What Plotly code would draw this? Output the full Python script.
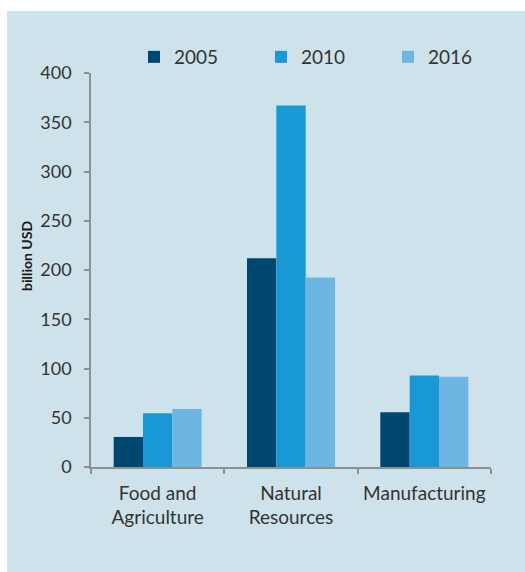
import plotly.graph_objects as go

categories = ["Food and<br>Agriculture", "Natural<br>Resources", "Manufacturing"]
years = ["2005", "2010", "2016"]
values_2005 = [30.5, 212, 55.5]
values_2010 = [54.5, 367, 93]
values_2016 = [59, 192.5, 91.5]
colors = ["#00476f", "#1898d4", "#6db6e2"]
y_ticks = [0, 50, 100, 150, 200, 250, 300, 350, 400]

FONT = "Lato"
TEXT = "#333333"
AXIS = "#8c9094"
PANEL = "#cee2eb"
FS = 19

fig = go.Figure()
for name, vals, col in zip(years, [values_2005, values_2010, values_2016], colors):
    fig.add_trace(go.Bar(x=categories, y=vals, name=name,
                         marker=dict(color=col, line=dict(width=0))))

# plot area: x 91..491 px, y 73..467 px
L, R, T, B = 91, 34, 73, 105
W, H = 525 - L - R, 572 - T - B

def px_x(p):
    return (p - L) / W

def px_y(p):
    return (572 - B - p) / H

fig.update_layout(
    width=525, height=572,
    margin=dict(l=L, r=R, t=T, b=B, autoexpand=False),
    paper_bgcolor="white", plot_bgcolor=PANEL,
    barmode="group", bargap=0.34, bargroupgap=0,
    font=dict(family=FONT, size=FS, color=TEXT),
    showlegend=True,
    legend=dict(orientation="h", xref="container", yref="container",
                x=134 / 525, y=1 - 57 / 572, xanchor="left", yanchor="middle",
                bgcolor="rgba(0,0,0,0)", entrywidth=82, entrywidthmode="pixels",
                font=dict(family=FONT, size=FS, color=TEXT), itemclick=False),
    xaxis=dict(showline=True, linecolor=AXIS, linewidth=1.5, ticks="outside",
               tickson="boundaries", ticklen=5, tickcolor=AXIS, tickwidth=1.5,
               showgrid=False, ticklabelstandoff=8,
               tickfont=dict(family=FONT, size=FS, color=TEXT)),
    yaxis=dict(range=[0, 400], tickvals=y_ticks, showline=True, linecolor=AXIS,
               linewidth=1.5, ticks="outside", ticklen=5, tickcolor=AXIS, tickwidth=1.5,
               showgrid=False, zeroline=False, ticklabelstandoff=9,
               tickfont=dict(family=FONT, size=18, color=TEXT)),
    shapes=[dict(type="rect", xref="paper", yref="paper", layer="below",
                 x0=px_x(7), x1=px_x(540), y0=px_y(600), y1=px_y(11),
                 fillcolor=PANEL, line=dict(width=0))],
    annotations=[dict(text="<b>billion USD</b>", textangle=-90, xref="paper", yref="paper",
                      x=px_x(26), y=px_y(256), xanchor="center", yanchor="middle",
                      showarrow=False,
                      font=dict(family=FONT, size=14, color="#1a1a1a"))],
)

fig.write_html("out.html")
